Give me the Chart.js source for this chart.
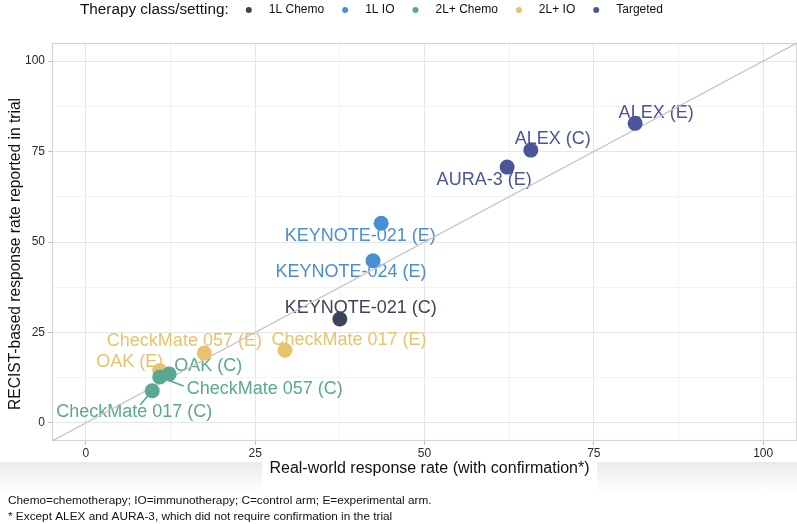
<!DOCTYPE html>
<html>
<head>
<meta charset="utf-8">
<script src="https://cdn.jsdelivr.net/npm/chart.js@4.4.0/dist/chart.umd.min.js"></script>
<style>
  html, body { margin: 0; padding: 0; background: #fff; }
  #wrap { position: relative; width: 797px; height: 524px; overflow: hidden; }
  #band { position: absolute; left: 0; top: 462px; width: 797px; height: 30px; background: linear-gradient(#ebebeb, #ffffff); }
  #bandGap { position: absolute; left: 262px; top: 458px; width: 335px; height: 34px; background: #fff; }
  canvas { position: absolute; left: 0; top: 0; }
</style>
</head>
<body>
<div id="wrap">
  <div id="band"></div>
  <div id="bandGap"></div>
  <canvas id="responseChart" width="797" height="524"></canvas>
</div>
<script>
// Therapy classes (legend order) and their colours
var classes = ['1L Chemo', '1L IO', '2L+ Chemo', '2L+ IO', 'Targeted'];
var classColors = ['#3c4557', '#4a8fd1', '#59a892', '#e8c36c', '#4a5699'];

// One entry per trial arm
var trials = ['KEYNOTE-021 (C)', 'KEYNOTE-021 (E)', 'KEYNOTE-024 (E)', 'CheckMate 017 (C)', 'CheckMate 057 (C)', 'OAK (C)',
              'CheckMate 017 (E)', 'CheckMate 057 (E)', 'OAK (E)', 'ALEX (C)', 'ALEX (E)', 'AURA-3 (E)'];
var trialClass = ['1L Chemo', '1L IO', '1L IO', '2L+ Chemo', '2L+ Chemo', '2L+ Chemo',
                  '2L+ IO', '2L+ IO', '2L+ IO', 'Targeted', 'Targeted', 'Targeted'];
var realWorldRate = [37.5, 43.6, 42.4, 9.8, 10.9, 12.3, 29.4, 17.5, 10.9, 65.7, 81.1, 62.2];
var reportedRate = [28.7, 55.2, 44.8, 8.9, 12.7, 13.5, 20.1, 19.3, 14.5, 75.4, 82.8, 70.7];

// Axis ticks (majors every 25 get a label) and the y = x reference line
var axisTicks = [0, 12.5, 25, 37.5, 50, 62.5, 75, 87.5, 100];
var identityLine = [-5, 105];

var legendTitle = 'Therapy class/setting:';
var xTitle = 'Real-world response rate (with confirmation*)';
var yTitle = 'RECIST-based response rate reported in trial';
var footnotes = [
    'Chemo=chemotherapy; IO=immunotherapy; C=control arm; E=experimental arm.',
    '* Except ALEX and AURA-3, which did not require confirmation in the trial'
];

// Where each text label sits relative to its point (pixels), like ggrepel did it
var labelOffsets = {
    'ALEX (E)': [21, -10],
    'ALEX (C)': [22, -11],
    'AURA-3 (E)': [-23, 13],
    'KEYNOTE-021 (E)': [-21, 13],
    'KEYNOTE-024 (E)': [-22, 11],
    'KEYNOTE-021 (C)': [21, -11],
    'CheckMate 057 (E)': [-20, -12],
    'CheckMate 017 (E)': [64, -10],
    'OAK (E)': [-30, -8],
    'OAK (C)': [39, -8],
    'CheckMate 057 (C)': [105, 12],
    'CheckMate 017 (C)': [-18, 21]
};
var labelLeaders = {
    'CheckMate 057 (C)': [24, 9],
    'CheckMate 017 (C)': [-12, 14]
};

var fontFamily = '"Liberation Sans", Arial, Helvetica, sans-serif';
Chart.defaults.font.family = fontFamily;

// Build one scatter dataset per class
var datasets = classes.map(function (cls, i) {
    var pts = [];
    trials.forEach(function (t, j) {
        if (trialClass[j] === cls) {
            pts.push({ x: realWorldRate[j], y: reportedRate[j], trial: t });
        }
    });
    return {
        label: cls,
        data: pts,
        isClass: true,
        backgroundColor: classColors[i],
        borderColor: classColors[i],
        borderWidth: 0,
        pointRadius: 7.5,
        pointHoverRadius: 7.5,
        order: 1
    };
});

// Diagonal reference line, drawn under the points
datasets.push({
    label: 'identity',
    data: identityLine.map(function (v) { return { x: v, y: v }; }),
    showLine: true,
    borderColor: '#c6c6c6',
    borderWidth: 1.3,
    pointRadius: 0,
    pointHoverRadius: 0,
    fill: false,
    order: 10
});

var plotDecor = {
    id: 'plotDecor',
    beforeDatasetsDraw: function (chart) {
        var ctx = chart.ctx;
        var area = chart.chartArea;
        var xs = chart.scales.x, ys = chart.scales.y;
        ctx.save();
        // panel border
        ctx.strokeStyle = '#d6d6d6';
        ctx.lineWidth = 1.2;
        ctx.strokeRect(area.left + 0.5, area.top + 0.5, area.right - area.left - 1, area.bottom - area.top - 1);

        // trial labels and leader segments (points go on top)
        ctx.font = '18px ' + fontFamily;
        ctx.textAlign = 'center';
        ctx.textBaseline = 'middle';
        chart.data.datasets.forEach(function (ds) {
            if (!ds.isClass) return;
            ds.data.forEach(function (p) {
                var px = xs.getPixelForValue(p.x);
                var py = ys.getPixelForValue(p.y);
                var off = labelOffsets[p.trial] || [0, -16];
                var lead = labelLeaders[p.trial];
                if (lead) {
                    ctx.strokeStyle = ds.backgroundColor;
                    ctx.lineWidth = 1.6;
                    ctx.beginPath();
                    ctx.moveTo(px, py);
                    ctx.lineTo(px + lead[0], py + lead[1]);
                    ctx.stroke();
                }
                ctx.fillStyle = ds.backgroundColor;
                ctx.fillText(p.trial, px + off[0], py + off[1]);
            });
        });
        ctx.restore();
    },
    afterDraw: function (chart) {
        var ctx = chart.ctx;
        var area = chart.chartArea;
        ctx.save();

        // legend across the top
        ctx.textBaseline = 'middle';
        ctx.textAlign = 'left';
        ctx.fillStyle = '#111';
        ctx.font = '15.3px ' + fontFamily;
        var lx = 80, ly = 10;
        ctx.fillText(legendTitle, lx, ly);
        lx += ctx.measureText(legendTitle).width + 20;
        ctx.font = '12px ' + fontFamily;
        chart.data.datasets.forEach(function (ds) {
            if (!ds.isClass) return;
            ctx.fillStyle = ds.backgroundColor;
            ctx.beginPath();
            ctx.arc(lx, ly, 3, 0, Math.PI * 2);
            ctx.fill();
            ctx.fillStyle = '#111';
            ctx.fillText(ds.label, lx + 20, ly);
            lx += 20 + ctx.measureText(ds.label).width + 21;
        });

        // axis titles
        ctx.fillStyle = '#111';
        ctx.font = '16px ' + fontFamily;
        ctx.textAlign = 'center';
        ctx.fillText(xTitle, (area.left + area.right) / 2 + 5, 469);
        ctx.save();
        ctx.translate(16, 254);
        ctx.rotate(-Math.PI / 2);
        ctx.font = '15.6px ' + fontFamily;
        ctx.fillText(yTitle, 0, 0);
        ctx.restore();

        // footnotes
        ctx.textAlign = 'left';
        ctx.font = '11.8px ' + fontFamily;
        ctx.fillText(footnotes[0], 8, 501);
        ctx.fillText(footnotes[1], 8, 517);
        ctx.restore();
    }
};

function isMajor(v) {
    return v % 25 === 0;
}

var ctx = document.getElementById('responseChart').getContext('2d');

var responseChart = new Chart(ctx, {
    type: 'scatter',
    data: { datasets: datasets },
    options: {
        responsive: false,
        animation: false,
        devicePixelRatio: 1,
        events: [],
        layout: { autoPadding: false, padding: { top: 43, right: 0, bottom: 0, left: 0 } },
        plugins: {
            legend: { display: false },
            tooltip: { enabled: false }
        },
        scales: {
            x: {
                type: 'linear',
                min: -5,
                max: 105,
                afterBuildTicks: function (scale) {
                    scale.ticks = axisTicks.map(function (v) { return { value: v }; });
                },
                afterFit: function (scale) {
                    scale.height = 83;
                    scale.paddingLeft = 0;
                    scale.paddingRight = 0;
                },
                ticks: {
                    autoSkip: false,
                    maxRotation: 0,
                    padding: 1,
                    color: '#2a2a2a',
                    font: { size: 12 },
                    callback: function (v) { return isMajor(v) ? v : ''; }
                },
                grid: {
                    color: function (c) { return c.tick && isMajor(c.tick.value) ? '#e5e5e5' : '#f2f2f2'; },
                    tickColor: function (c) { return c.tick && isMajor(c.tick.value) ? '#bdbdbd' : 'rgba(0,0,0,0)'; },
                    tickLength: 4,
                    lineWidth: 1
                },
                border: { display: false }
            },
            y: {
                type: 'linear',
                min: -5,
                max: 105,
                afterBuildTicks: function (scale) {
                    scale.ticks = axisTicks.map(function (v) { return { value: v }; });
                },
                afterFit: function (scale) {
                    scale.width = 52;
                    scale.paddingTop = 0;
                    scale.paddingBottom = 0;
                },
                ticks: {
                    autoSkip: false,
                    padding: 3,
                    color: '#2a2a2a',
                    font: { size: 12 },
                    callback: function (v) { return isMajor(v) ? v : ''; }
                },
                grid: {
                    color: function (c) { return c.tick && isMajor(c.tick.value) ? '#e5e5e5' : '#f2f2f2'; },
                    tickColor: function (c) { return c.tick && isMajor(c.tick.value) ? '#bdbdbd' : 'rgba(0,0,0,0)'; },
                    tickLength: 4,
                    lineWidth: 1
                },
                border: { display: false }
            }
        }
    },
    plugins: [plotDecor]
});
</script>
</body>
</html>
